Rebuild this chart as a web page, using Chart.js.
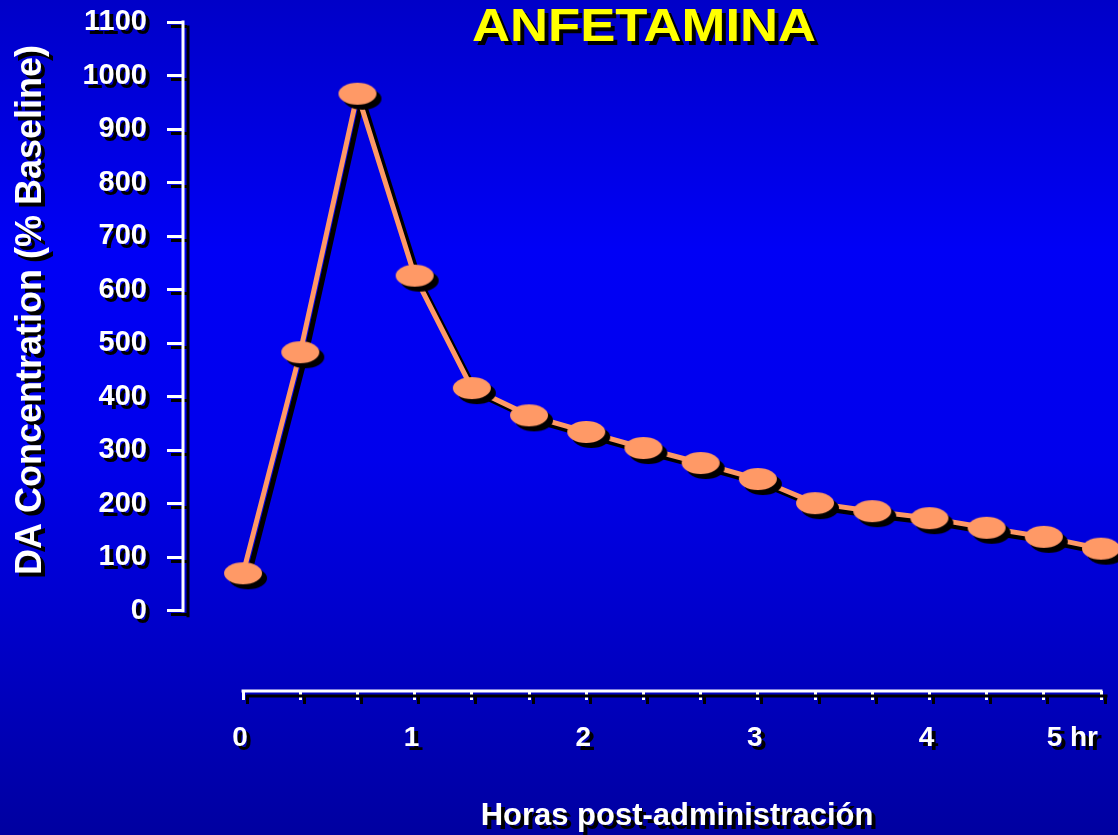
<!DOCTYPE html>
<html>
<head>
<meta charset="utf-8">
<title>Anfetamina</title>
<script src="https://cdn.jsdelivr.net/npm/chart.js@4.4.1/dist/chart.umd.min.js"></script>
<style>
    html, body { margin: 0; padding: 0; background: #0000c8; }
    #wrap { width: 1118px; height: 835px; }
</style>
</head>
<body>
<div id="wrap"><canvas id="anfChart" width="1118" height="835"></canvas></div>
<script>
// data (time in minutes after administration)
const minutes = [0, 20, 40, 60, 80, 100, 120, 140, 160, 180, 200, 220, 240, 260, 280, 300];
const daConcentration = [70, 483, 966, 626, 416, 365, 334, 304, 276, 246, 201, 186, 173, 155, 138, 116];
const hourTickValues = [0, 60, 120, 180, 240, 300];
const hourTickLabels = ['0', '1', '2', '3', '4', '5 hr'];
const yTickValues = [0, 100, 200, 300, 400, 500, 600, 700, 800, 900, 1000, 1100];

const chartTitle = 'ANFETAMINA';
const yTitle = 'DA Concentration (% Baseline)';
const xTitle = 'Horas post-administración';

const FONT = '"Liberation Sans", Arial, sans-serif';

document.addEventListener('DOMContentLoaded', function() {
    if (typeof Chart === 'undefined') return;

    // oval marker
    const marker = document.createElement('canvas');
    marker.width = 40;
    marker.height = 24;
    const mctx = marker.getContext('2d');
    mctx.fillStyle = '#FF9966';
    mctx.beginPath();
    mctx.ellipse(20, 12, 19, 11, 0, 0, Math.PI * 2);
    mctx.fill();

    function setShadow(ctx, off) {
        ctx.shadowColor = '#000000';
        ctx.shadowBlur = 0;
        ctx.shadowOffsetX = off;
        ctx.shadowOffsetY = off;
    }

    // background + drop shadows + axis lines + titles
    const slidePlugin = {
        id: 'slide',
        beforeDraw(chart) {
            const ctx = chart.ctx;
            const h = chart.height;
            ctx.save();
            const g = ctx.createLinearGradient(0, 0, 0, h);
            g.addColorStop(0, 'rgb(0,0,200)');
            g.addColorStop(0.3, 'rgb(0,0,246)');
            g.addColorStop(0.55, 'rgb(0,0,236)');
            g.addColorStop(1, 'rgb(0,0,160)');
            ctx.fillStyle = g;
            ctx.fillRect(0, 0, chart.width, h);
            ctx.restore();
            setShadow(ctx, 4);
        },
        beforeDatasetsDraw(chart) {
            const ctx = chart.ctx;
            const x = chart.scales.x;
            const y = chart.scales.y;
            const area = chart.chartArea;
            ctx.save();
            setShadow(ctx, 5);
            ctx.strokeStyle = '#FFFFFF';
            ctx.lineWidth = 3;
            ctx.lineCap = 'square';
            ctx.beginPath();
            ctx.moveTo(area.left, y.getPixelForValue(1100));
            ctx.lineTo(area.left, y.getPixelForValue(0));
            ctx.stroke();
            ctx.beginPath();
            ctx.moveTo(x.getPixelForValue(0), area.bottom);
            ctx.lineTo(x.getPixelForValue(300), area.bottom);
            ctx.stroke();
            ctx.restore();
            setShadow(ctx, 5);
        },
        afterDraw(chart) {
            const ctx = chart.ctx;
            ctx.save();
            setShadow(ctx, 4);
            ctx.textAlign = 'center';
            ctx.textBaseline = 'middle';

            ctx.fillStyle = '#FFFFFF';
            ctx.font = 'bold 31px ' + FONT;
            ctx.fillText(xTitle, 677, 816);

            ctx.save();
            ctx.translate(31, 310);
            ctx.rotate(-Math.PI / 2);
            ctx.font = 'bold 36px ' + FONT;
            ctx.fillText(yTitle, 0, 0);
            ctx.restore();

            // title glyphs are a bit wider than Liberation Sans
            ctx.translate(644, 28);
            ctx.scale(1.12, 1);
            ctx.fillStyle = '#FFFF00';
            ctx.font = 'bold 47px ' + FONT;
            ctx.fillText(chartTitle, 0, 0);
            ctx.restore();
            setShadow(ctx, 0);
        }
    };

    new Chart(document.getElementById('anfChart'), {
        type: 'line',
        data: {
            datasets: [{
                label: 'DA',
                data: minutes.map((m, i) => ({ x: m, y: daConcentration[i] })),
                borderColor: '#FF9966',
                borderWidth: 5,
                tension: 0,
                fill: false,
                clip: false,
                pointStyle: marker,
                pointRadius: 12,
                pointHoverRadius: 12
            }]
        },
        options: {
            responsive: false,
            animation: false,
            devicePixelRatio: 1,
            layout: { padding: { top: 22, right: 7, left: 0, bottom: 0 } },
            plugins: {
                legend: { display: false },
                title: { display: false },
                tooltip: { enabled: false }
            },
            scales: {
                x: {
                    type: 'linear',
                    min: -21,
                    max: 300,
                    afterBuildTicks: s => {
                        // hidden first tick keeps the 'inner' alignment off the "0" label
                        s.ticks = [{ value: s.min }].concat(minutes.map(v => ({ value: v })));
                    },
                    afterFit: s => {
                        s.height = 144;
                        s.paddingLeft = 0;
                        s.paddingRight = 0;
                    },
                    border: { display: false },
                    grid: {
                        drawOnChartArea: false,
                        drawTicks: true,
                        tickLength: 9,
                        lineWidth: 3,
                        color: c => (c.tick && c.tick.value < 0) ? 'rgba(0,0,0,0)' : '#FFFFFF'
                    },
                    ticks: {
                        autoSkip: false,
                        maxRotation: 0,
                        align: 'inner',
                        labelOffset: -3,
                        padding: 21,
                        color: '#FFFFFF',
                        font: { family: FONT, size: 28, weight: 'bold' },
                        callback: v => {
                            const i = hourTickValues.indexOf(v);
                            return i >= 0 ? hourTickLabels[i] : '';
                        }
                    }
                },
                y: {
                    min: -150,
                    max: 1100,
                    afterFit: s => {
                        s.width = 183;
                        s.paddingTop = 0;
                        s.paddingBottom = 0;
                    },
                    afterBuildTicks: s => { s.ticks = yTickValues.map(v => ({ value: v })); },
                    border: { display: false },
                    grid: {
                        drawOnChartArea: false,
                        drawTicks: true,
                        tickLength: 16,
                        lineWidth: 3,
                        color: '#FFFFFF'
                    },
                    ticks: {
                        padding: 20,
                        color: '#FFFFFF',
                        font: { family: FONT, size: 29, weight: 'bold' },
                        callback: v => String(v)
                    }
                }
            }
        },
        plugins: [slidePlugin]
    });
});
</script>
</body>
</html>
